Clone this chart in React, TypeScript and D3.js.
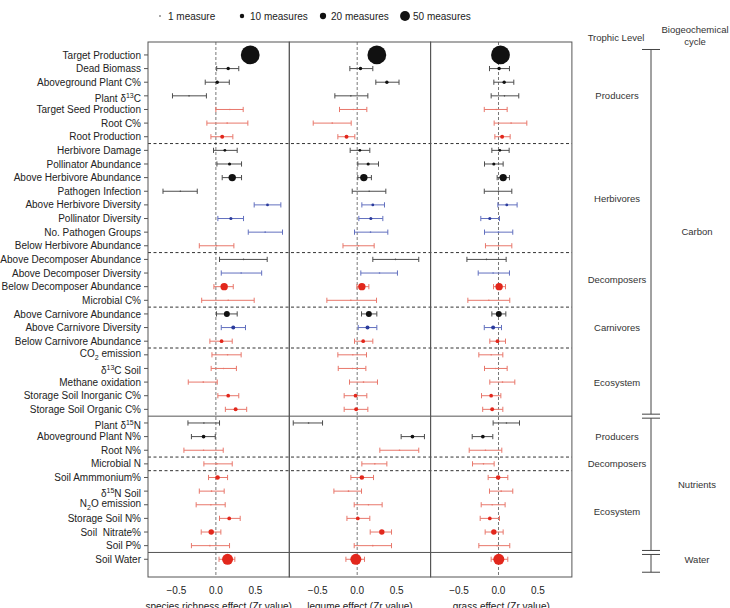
import React from 'react';
import * as d3 from 'd3';

// ---------- data ----------
const labels = [
  'Target Production', 'Dead Biomass', 'Aboveground Plant C%', 'Plant δ^{13}C', 'Target Seed Production', 'Root C%', 'Root Production',
  'Herbivore Damage', 'Pollinator Abundance', 'Above Herbivore Abundance', 'Pathogen Infection', 'Above Herbivore Diversity', 'Pollinator Diversity', 'No. Pathogen Groups', 'Below Herbivore Abundance',
  'Above Decomposer Abundance', 'Above Decomposer Diversity', 'Below Decomposer Abundance', 'Microbial C%',
  'Above Carnivore Abundance', 'Above Carnivore Diversity', 'Below Carnivore Abundance',
  'CO_{2} emission', 'δ^{13}C Soil', 'Methane oxidation', 'Storage Soil Inorganic C%', 'Storage Soil Organic C%',
  'Plant δ^{15}N', 'Aboveground Plant N%', 'Root N%',
  'Microbial N',
  'Soil Ammmonium%', 'δ^{15}N Soil', 'N_{2}O emission', 'Storage Soil N%', 'Soil  Nitrate%', 'Soil P%',
  'Soil Water',
];

// k = aboveground (black), r = belowground (red), b = diversity (blue)
const kinds = [
  'k', 'k', 'k', 'k', 'r', 'r', 'r',
  'k', 'k', 'k', 'k', 'b', 'b', 'b', 'r',
  'k', 'b', 'r', 'r',
  'k', 'b', 'r',
  'r', 'r', 'r', 'r', 'r',
  'k', 'k', 'r',
  'r',
  'r', 'r', 'r', 'r', 'r', 'r',
  'r',
];

const counts = [
  180, 6, 6, 1, 1, 1, 8,
  4, 5, 28, 1, 4, 5, 1, 1,
  1, 1, 28, 1,
  18, 8, 7,
  1, 1, 1, 7, 8,
  1, 7, 1,
  1,
  11, 1, 1, 7, 15, 1,
  62,
];

const richMean = [0.435, 0.156, 0.017, -0.34, 0.177, 0.143, 0.08, 0.114, 0.173, 0.207, -0.45, 0.654, 0.19, 0.624, 0.008, 0.35, 0.32, 0.105, 0.156, 0.139, 0.22, 0.072, 0.148, 0.097, -0.16, 0.156, 0.25, -0.152, -0.156, -0.156, 0.013, 0.021, -0.055, -0.063, 0.169, -0.059, -0.076, 0.148];
const richLo = [0.395, 0.01, -0.135, -0.55, 0.0, -0.114, -0.063, -0.03, 0.013, 0.08, -0.67, 0.485, 0.025, 0.41, -0.21, 0.046, 0.068, -0.025, -0.18, 0.008, 0.068, -0.076, -0.05, -0.06, -0.35, 0.025, 0.12, -0.354, -0.31, -0.405, -0.152, -0.093, -0.21, -0.25, 0.046, -0.186, -0.31, 0.04];
const richHi = [0.475, 0.29, 0.17, -0.12, 0.346, 0.405, 0.215, 0.27, 0.325, 0.325, -0.236, 0.823, 0.35, 0.844, 0.228, 0.65, 0.58, 0.22, 0.485, 0.27, 0.375, 0.207, 0.32, 0.26, 0.017, 0.29, 0.39, 0.046, -0.008, 0.093, 0.207, 0.148, 0.105, 0.118, 0.308, 0.063, 0.173, 0.24];

const legMean = [0.249, 0.042, 0.376, -0.08, -0.05, -0.316, -0.135, 0.034, 0.139, 0.084, 0.152, 0.198, 0.173, 0.169, 0.017, 0.485, 0.283, 0.059, -0.08, 0.148, 0.131, 0.076, -0.055, -0.059, 0.08, -0.021, -0.013, -0.616, 0.70, 0.536, 0.224, 0.059, -0.11, 0.143, 0.008, 0.312, 0.198, -0.017];
const legLo = [0.209, -0.093, 0.236, -0.283, -0.224, -0.557, -0.245, -0.089, 0.008, 0.008, -0.063, 0.059, 0.021, -0.034, -0.18, 0.198, 0.046, -0.004, -0.384, 0.055, 0.013, -0.034, -0.245, -0.24, -0.097, -0.165, -0.165, -0.81, 0.557, 0.287, 0.059, -0.08, -0.295, -0.038, -0.13, 0.165, -0.038, -0.143];
const legHi = [0.289, 0.198, 0.53, 0.135, 0.122, -0.076, -0.03, 0.16, 0.27, 0.18, 0.363, 0.346, 0.325, 0.388, 0.215, 0.78, 0.51, 0.148, 0.245, 0.249, 0.249, 0.198, 0.118, 0.11, 0.257, 0.122, 0.135, -0.439, 0.852, 0.78, 0.376, 0.207, 0.055, 0.316, 0.16, 0.435, 0.435, 0.093];

const grassMean = [0.025, 0.008, 0.072, 0.076, -0.03, 0.16, 0.046, 0.017, -0.059, 0.059, 0.0, 0.105, -0.11, 0.0, 0.0, -0.152, -0.068, 0.008, -0.122, 0.004, -0.068, -0.013, -0.093, -0.034, 0.051, -0.093, -0.08, 0.101, -0.198, -0.165, -0.19, -0.004, 0.034, -0.08, -0.11, -0.059, -0.017, 0.004];
const grassLo = [-0.015, -0.114, -0.059, -0.093, -0.18, -0.055, -0.046, -0.084, -0.177, -0.017, -0.18, -0.008, -0.224, -0.177, -0.165, -0.4, -0.257, -0.063, -0.388, -0.084, -0.18, -0.11, -0.249, -0.177, -0.11, -0.215, -0.2, -0.068, -0.333, -0.371, -0.329, -0.131, -0.114, -0.219, -0.232, -0.169, -0.249, -0.093];
const grassHi = [0.065, 0.139, 0.194, 0.257, 0.11, 0.359, 0.148, 0.135, 0.059, 0.139, 0.169, 0.236, 0.013, 0.181, 0.169, 0.097, 0.139, 0.089, 0.143, 0.093, 0.038, 0.089, 0.055, 0.11, 0.207, 0.03, 0.055, 0.266, -0.072, 0.042, -0.055, 0.118, 0.181, 0.084, 0.013, 0.059, 0.143, 0.118];

const panelTitles = ['species richness effect (Zr value)', 'legume effect (Zr value)', 'grass effect (Zr value)'];
const xTicks = [-0.5, 0, 0.5];

const dashedAfter = [6, 14, 18, 21, 29, 30];
const solidAfter = [26, 36];

const trophicNames = ['Producers', 'Herbivores', 'Decomposers', 'Carnivores', 'Ecosystem', 'Producers', 'Decomposers', 'Ecosystem'];
const trophicFrom = [0, 7, 15, 19, 22, 27, 30, 31];
const trophicTo = [6, 14, 18, 21, 26, 29, 30, 36];

const cycleNames = ['Carbon', 'Nutrients', 'Water'];
const cycleFrom = [0, 27, 37];
const cycleTo = [26, 36, 37];

const legendCounts = [1, 10, 20, 50];
const legendLabels = ['1 measure', '10 measures', '20 measures', '50 measures'];

// ---------- styling ----------
const FONT = 'Liberation Sans, Arial, Helvetica, sans-serif';
const lineCol: Record<string, string> = { k: '#4d4d4d', r: '#e8776b', b: '#6270bf' };
const dotCol: Record<string, string> = { k: '#111111', r: '#e2271c', b: '#2b3b9c' };

function richLabel(s: string, x: number, y: number, key: string) {
  const parts = s.split(/(\^\{[^}]*\}|_\{[^}]*\})/).filter(p => p.length > 0);
  let shift = 0;
  const hasSup = parts.some(p => p.startsWith('^{'));
  const hasSub = parts.some(p => p.startsWith('_{'));
  const baseY = y + 3.6 + (hasSup ? 2.2 : 0) + (hasSub ? -1.2 : 0);
  const spans = parts.map((p, i) => {
    if (p.startsWith('^{')) {
      const d = -4 - shift; shift = -4;
      return <tspan key={i} dy={d} fontSize={7}>{p.slice(2, -1)}</tspan>;
    }
    if (p.startsWith('_{')) {
      const d = 2.5 - shift; shift = 2.5;
      return <tspan key={i} dy={d} fontSize={7}>{p.slice(2, -1)}</tspan>;
    }
    const d = -shift; shift = 0;
    return <tspan key={i} dy={d}>{p}</tspan>;
  });
  return (
    <text key={key} x={x} y={baseY} textAnchor="end" fontSize={10} fill="#222" style={{ whiteSpace: 'pre' }}>
      {spans}
    </text>
  );
}

export default function App() {
  const W = 730, H = 608;
  const top = 42, bottom = 577;
  const y = d3.scaleLinear().domain([-0.95, 38.3]).range([top, bottom]);
  const rScale = d3.scaleSqrt().domain([0, 50]).range([0, 4.95]);
  const left = 148, pw = 141.3;
  const right = left + 3 * pw;
  const panelData = [
    { mean: richMean, lo: richLo, hi: richHi },
    { mean: legMean, lo: legLo, hi: legHi },
    { mean: grassMean, lo: grassLo, hi: grassHi },
  ];
  const xs = panelData.map((_, p) => d3.scaleLinear().domain([-0.86, 0.93]).range([left + p * pw, left + (p + 1) * pw]));

  const capH = 2.6;
  const bx = 651;

  return (
    <svg width={W} height={H} style={{ position: 'absolute', left: 0, top: 0, background: '#fff' }} fontFamily={FONT}>
      <rect x={0} y={0} width={W} height={H} fill="#fff" />
      {/* legend */}
      {legendCounts.map((c, i) => {
        const lx = [160, 242, 323, 405][i];
        return (
          <g key={'lg' + i}>
            <circle cx={lx} cy={16} r={rScale(c)} fill="#111" />
            <text x={lx + 8} y={19.5} fontSize={10} fill="#222">{legendLabels[i]}</text>
          </g>
        );
      })}

      {/* zero lines */}
      {xs.map((x, p) => (
        <line key={'z' + p} x1={x(0)} x2={x(0)} y1={top} y2={bottom} stroke="#777" strokeWidth={1} strokeDasharray="3,2" />
      ))}

      {/* separators */}
      {dashedAfter.map(i => (
        <line key={'d' + i} x1={left} x2={right} y1={y(i + 0.5)} y2={y(i + 0.5)} stroke="#333" strokeWidth={1} strokeDasharray="3,2.5" />
      ))}
      {solidAfter.map(i => (
        <line key={'s' + i} x1={left} x2={right} y1={y(i + 0.5)} y2={y(i + 0.5)} stroke="#555" strokeWidth={1} />
      ))}

      {/* error bars and points */}
      {panelData.map((pd, p) => {
        const x = xs[p];
        return (
          <g key={'p' + p}>
            {labels.map((_, i) => {
              const k = kinds[i];
              const yy = y(i);
              return (
                <g key={i}>
                  <line x1={x(pd.lo[i])} x2={x(pd.hi[i])} y1={yy} y2={yy} stroke={lineCol[k]} strokeWidth={1} />
                  <line x1={x(pd.lo[i])} x2={x(pd.lo[i])} y1={yy - capH} y2={yy + capH} stroke={lineCol[k]} strokeWidth={1} />
                  <line x1={x(pd.hi[i])} x2={x(pd.hi[i])} y1={yy - capH} y2={yy + capH} stroke={lineCol[k]} strokeWidth={1} />
                  <circle cx={x(pd.mean[i])} cy={yy} r={Math.max(0.8, rScale(counts[i]))} fill={counts[i] <= 1 ? lineCol[k] : dotCol[k]} />
                </g>
              );
            })}
          </g>
        );
      })}

      {/* panel boxes */}
      {xs.map((_, p) => (
        <rect key={'b' + p} x={left + p * pw} y={top} width={pw} height={bottom - top} fill="none" stroke="#555" strokeWidth={1} />
      ))}

      {/* y ticks and labels */}
      {labels.map((l, i) => (
        <g key={'yl' + i}>
          <line x1={left - 4} x2={left} y1={y(i)} y2={y(i)} stroke="#555" strokeWidth={1} />
          {richLabel(l, 141, y(i), 'lab' + i)}
        </g>
      ))}

      {/* x tick labels and titles */}
      {xs.map((x, p) => (
        <g key={'xa' + p}>
          {xTicks.map(t => (
            <text key={t} x={x(t)} y={594} textAnchor="middle" fontSize={10} fill="#222">{d3.format('.1f')(t)}</text>
          ))}
          <text x={left + p * pw + pw / 2} y={610} textAnchor="middle" fontSize={10} fill="#222">{panelTitles[p]}</text>
        </g>
      ))}

      {/* right annotations */}
      <text x={616} y={41} textAnchor="middle" fontSize={9.5} fill="#333">Trophic Level</text>
      <text x={695} y={33} textAnchor="middle" fontSize={9.5} fill="#333">Biogeochemical</text>
      <text x={695} y={45} textAnchor="middle" fontSize={9.5} fill="#333">cycle</text>
      {trophicNames.map((n, i) => (
        <text key={'t' + i} x={617} y={y((trophicFrom[i] + trophicTo[i]) / 2) + 3.5} textAnchor="middle" fontSize={9.5} fill="#333">{n}</text>
      ))}
      {cycleNames.map((n, i) => {
        const y1 = i === 0 ? y(-0.4) : y(cycleFrom[i] - 0.5) + 2;
        const y2 = i === 2 ? y(37.95) : y(cycleTo[i] + 0.5) - 2;
        return (
          <g key={'c' + i}>
            <line x1={bx} x2={bx} y1={y1} y2={y2} stroke="#444" strokeWidth={1} />
            <line x1={bx - 9} x2={bx + 9} y1={y1} y2={y1} stroke="#444" strokeWidth={1} />
            <line x1={bx - 9} x2={bx + 9} y1={y2} y2={y2} stroke="#444" strokeWidth={1} />
            <text x={697} y={y((cycleFrom[i] + cycleTo[i]) / 2) + 3.5 + (i === 0 ? -0.5 : 0)} textAnchor="middle" fontSize={9.5} fill="#333">{n}</text>
          </g>
        );
      })}
    </svg>
  );
}
